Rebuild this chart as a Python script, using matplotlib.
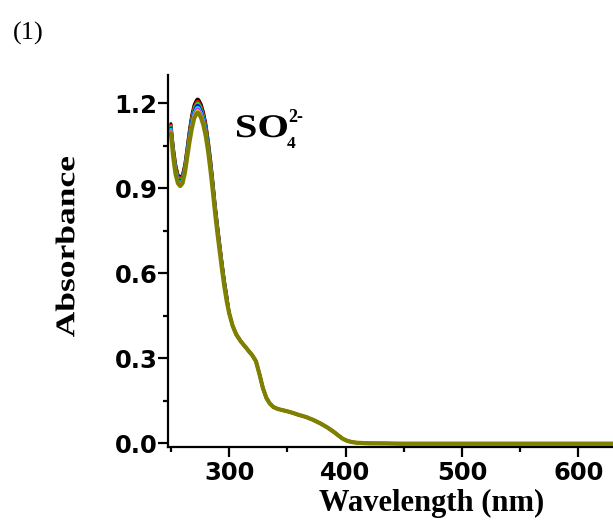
#!/usr/bin/env python3
"""UV-vis titration panel (l): absorbance vs wavelength with SO4(2-) additions."""
import matplotlib
matplotlib.use("Agg")
import matplotlib.pyplot as plt
from matplotlib.font_manager import FontProperties
from matplotlib.patches import PathPatch
from matplotlib.textpath import TextPath
from matplotlib.transforms import Affine2D, IdentityTransform
from matplotlib.ticker import FixedLocator, MultipleLocator

# ---- data ----
# 250-298 nm: the traces separate slightly (one per SO4(2-) addition)
wl_head = [250, 252, 254, 256, 258, 260, 262, 264, 266, 268, 270, 272, 273,
           274, 276, 278, 280, 282, 284, 286, 288, 290, 292, 294, 296, 298]
abs_black = [1.128, 1.045, 0.985, 0.948, 0.938, 0.948, 0.985, 1.045, 1.108, 1.160, 1.195, 1.212, 1.215,
             1.212, 1.196, 1.168, 1.127, 1.070, 1.003, 0.925, 0.842, 0.770, 0.702, 0.634, 0.572, 0.520]
abs_red = [1.123, 1.040, 0.980, 0.943, 0.933, 0.943, 0.980, 1.040, 1.100, 1.152, 1.187, 1.204, 1.208,
           1.204, 1.188, 1.160, 1.120, 1.063, 0.997, 0.920, 0.836, 0.765, 0.697, 0.630, 0.568, 0.516]
abs_green = [1.118, 1.035, 0.975, 0.938, 0.928, 0.938, 0.975, 1.035, 1.094, 1.145, 1.180, 1.197, 1.200,
             1.197, 1.180, 1.153, 1.113, 1.057, 0.991, 0.915, 0.832, 0.760, 0.693, 0.626, 0.565, 0.513]
abs_blue = [1.113, 1.030, 0.970, 0.933, 0.923, 0.933, 0.970, 1.030, 1.088, 1.138, 1.173, 1.190, 1.193,
            1.190, 1.173, 1.146, 1.106, 1.051, 0.985, 0.910, 0.827, 0.756, 0.689, 0.622, 0.561, 0.510]
abs_cyan = [1.108, 1.025, 0.965, 0.928, 0.918, 0.928, 0.965, 1.025, 1.082, 1.131, 1.166, 1.183, 1.186,
            1.183, 1.166, 1.140, 1.100, 1.045, 0.979, 0.905, 0.823, 0.752, 0.685, 0.619, 0.558, 0.507]
abs_magenta = [1.103, 1.020, 0.960, 0.925, 0.915, 0.925, 0.962, 1.020, 1.076, 1.124, 1.159, 1.176, 1.179,
               1.176, 1.159, 1.133, 1.094, 1.039, 0.973, 0.900, 0.818, 0.747, 0.681, 0.615, 0.555, 0.505]
abs_yellow = [1.099, 1.015, 0.955, 0.921, 0.911, 0.921, 0.958, 1.015, 1.070, 1.118, 1.153, 1.170, 1.174,
              1.170, 1.153, 1.127, 1.088, 1.034, 0.968, 0.895, 0.814, 0.744, 0.678, 0.612, 0.552, 0.502]
abs_olive = [1.095, 1.010, 0.950, 0.918, 0.908, 0.918, 0.955, 1.010, 1.065, 1.112, 1.147, 1.164, 1.168,
             1.164, 1.148, 1.122, 1.083, 1.029, 0.963, 0.890, 0.810, 0.740, 0.675, 0.610, 0.550, 0.500]

# 300-700 nm: all traces overlap
wl_tail = [300, 303, 306, 310, 315, 320, 323, 326, 329, 332, 335, 338, 342, 346, 350, 355, 360,
           366, 372, 378, 384, 390, 395, 398, 402, 406, 410, 420, 450, 500, 550, 600, 650, 700]
abs_tail = [0.460, 0.415, 0.385, 0.360, 0.335, 0.310, 0.290, 0.245, 0.195, 0.160, 0.140, 0.128,
            0.121, 0.117, 0.113, 0.107, 0.100, 0.093, 0.083, 0.071, 0.057, 0.040, 0.024, 0.015,
            0.008, 0.004, 0.002, 0.000, -0.001, -0.001, -0.001, -0.001, -0.001, -0.001]

x_major = [300, 400, 500, 600]
x_minor = [250, 350, 450, 550, 650]

TRACES = [
    (abs_black, "black"),
    (abs_red, "#ff0000"),
    (abs_green, "#00ee00"),
    (abs_blue, "#0000ff"),
    (abs_cyan, "#00e5ff"),
    (abs_magenta, "#ff00ff"),
    (abs_yellow, "#ffff00"),
    (abs_olive, "#808000"),
]

W_PX, H_PX = 613, 521
SERIF_BOLD = FontProperties(family="Liberation Serif", weight="bold")


def stretched_text(fig, s, x, y, size, width, prop, rotation=0, anchor="center"):
    """Draw text as a path, stretched along its run to a given pixel width.
    x, y are pixel coords from the top-left corner of the canvas."""
    tp = TextPath((0, 0), s, size=size, prop=prop)
    ext = tp.get_extents()
    tr = Affine2D()
    if anchor == "center":
        tr.translate(-(ext.x0 + ext.x1) / 2, -(ext.y0 + ext.y1) / 2)
    else:  # left / baseline
        tr.translate(-ext.x0, 0)
    tr.scale(width / ext.width, 1).rotate_deg(rotation).translate(x, H_PX - y)
    patch = PathPatch(tr.transform_path(tp), facecolor="black", edgecolor="none",
                      transform=IdentityTransform())
    fig.add_artist(patch)


fig = plt.figure(figsize=(W_PX / 100, H_PX / 100), dpi=100)
# axes run past the right edge of the canvas (the panel was cropped)
ax = fig.add_axes([168 / W_PX, 1 - 447 / H_PX, (696 - 168) / W_PX, (447 - 75) / H_PX])

wl = wl_head + wl_tail
for vals, color in TRACES:
    lw = 3.0 if color == "#808000" else 2.2
    ax.plot(wl, vals + abs_tail, color=color, linewidth=lw, solid_capstyle="round")

ax.set_xlim(247.5, 701)
ax.set_ylim(-0.013, 1.30)
ax.xaxis.set_major_locator(FixedLocator(x_major))
ax.xaxis.set_minor_locator(FixedLocator(x_minor))
ax.yaxis.set_major_locator(MultipleLocator(0.3))
ax.yaxis.set_minor_locator(MultipleLocator(0.15))
ax.yaxis.set_major_formatter(plt.FuncFormatter(lambda v, _: f"{v:.1f}"))

for side in ("top", "right"):
    ax.spines[side].set_visible(False)
for side in ("left", "bottom"):
    ax.spines[side].set_linewidth(1.6)
ax.tick_params(which="major", direction="out", length=7, width=1.6)
ax.tick_params(which="minor", direction="out", length=3.5, width=1.6)
ax.tick_params(axis="x", which="major", pad=3)
ax.tick_params(axis="y", which="major", pad=0.5)

tick_font = FontProperties(family="DejaVu Sans", weight="bold", size=17.5)
for lab in ax.get_xticklabels() + ax.get_yticklabels():
    lab.set_fontproperties(tick_font)

fig.text(432 / W_PX, 1 - 503 / H_PX, "Wavelength (nm)", ha="center", va="center",
         fontsize=22, fontproperties=SERIF_BOLD)
stretched_text(fig, "Absorbance", 65, 247, size=27, width=180, prop=SERIF_BOLD, rotation=90)

# SO4(2-) annotation
stretched_text(fig, "SO", 237, 137, size=33, width=50, prop=SERIF_BOLD, anchor="left")
fig.text(287 / W_PX, 1 - 148 / H_PX, "4", ha="left", va="baseline", fontsize=12.5,
         fontproperties=SERIF_BOLD)
fig.text(288 / W_PX, 1 - 122 / H_PX, "2-", ha="left", va="baseline", fontsize=13,
         fontproperties=SERIF_BOLD)

fig.text(13 / W_PX, 1 - 40 / H_PX, "(1)", ha="left", va="baseline", fontsize=19,
         family="Liberation Serif")

fig.savefig("out.png", dpi=100)
